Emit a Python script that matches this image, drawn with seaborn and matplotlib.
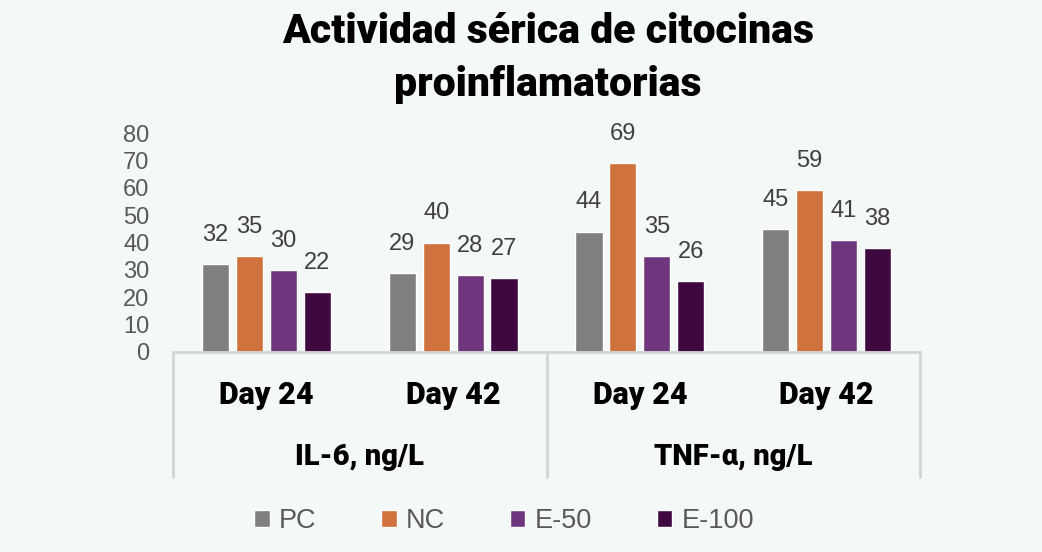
import matplotlib
matplotlib.use("Agg")
import matplotlib.pyplot as plt
import seaborn as sns
import pandas as pd

# ---- data ----
groups = ["IL-6, ng/L", "TNF-α, ng/L"]
days = ["Day 24", "Day 42"]
series = ["PC", "NC", "E-50", "E-100"]
il6_day24 = [32, 35, 30, 22]
il6_day42 = [29, 40, 28, 27]
tnf_day24 = [44, 69, 35, 26]
tnf_day42 = [45, 59, 41, 38]
colors = ["#7f7f7f", "#cf723e", "#70367d", "#400840"]
yticks = [0, 10, 20, 30, 40, 50, 60, 70, 80]

cats = [f"{g} {d}" for g in groups for d in days]
vals = [il6_day24, il6_day42, tnf_day24, tnf_day42]
rows = []
for c, v in zip(cats, vals):
    for s, x in zip(series, v):
        rows.append({"cat": c, "series": s, "value": x})
df = pd.DataFrame(rows)

bg = "#f4f8f7"
sns.set_theme(style="white")
plt.rcParams["font.family"] = ["Liberation Sans", "DejaVu Sans"]
bold_family = ["Roboto", "DejaVu Sans"]

fig = plt.figure(figsize=(10.42, 5.52), dpi=100, facecolor=bg)
W, H = 1042, 552
ax = fig.add_axes([173 / W, (H - 352) / H, (920 - 173) / W, (352 - 133) / H])
ax.set_facecolor(bg)

sns.barplot(data=df, x="cat", y="value", hue="series", order=cats,
            hue_order=series, palette=colors, width=0.727, gap=0.2,
            saturation=1, ax=ax, errorbar=None)

for cont in ax.containers:
    ax.bar_label(cont, padding=13, fontsize=17, color="#404040")

ax.set_ylim(0, 80)
ax.set_xlim(-0.5, 3.5)
ax.set_yticks(yticks)
ax.set_yticklabels([str(t) for t in yticks], fontsize=17, color="#595959")
ax.tick_params(axis="y", length=0, pad=17)
ax.set_xticks(range(len(cats)))
ax.set_xticklabels(days * len(groups), fontsize=22, fontweight="heavy",
                   color="black", family=bold_family)
ax.tick_params(axis="x", length=0, pad=20)
ax.set_xlabel("")
ax.set_ylabel("")

for s in ["top", "right", "left"]:
    ax.spines[s].set_visible(False)
ax.spines["bottom"].set_color("#d4d6d6")
ax.spines["bottom"].set_linewidth(2)

# category separators
trans = ax.get_xaxis_transform()
for xs in [-0.5, 1.5, 3.5]:
    ax.plot([xs, xs], [0, -0.575], transform=trans, color="#d4d6d6",
            lw=2, clip_on=False, solid_capstyle="butt")
for i, g in enumerate(groups):
    ax.text(0.5 + 2 * i, -0.479, g, transform=trans, ha="center", va="center",
            fontsize=21, fontweight="heavy", color="black",
            family=bold_family)

handles, labels = ax.get_legend_handles_labels()
ax.get_legend().remove()
fig.legend(handles, labels, loc="center", bbox_to_anchor=(0.484, 0.056),
           ncol=4, frameon=False, fontsize=19.5, handlelength=0.56,
           handleheight=0.56, handletextpad=0.35, columnspacing=2.4,
           labelcolor="#595959")

fig.text(548 / W, 1 - 58 / H, "Actividad sérica de citocinas\nproinflamatorias",
         ha="center", va="center", fontsize=29.5, fontweight="heavy",
         color="black", family=bold_family, linespacing=1.42)

fig.savefig("out.png", dpi=100, facecolor=bg)
